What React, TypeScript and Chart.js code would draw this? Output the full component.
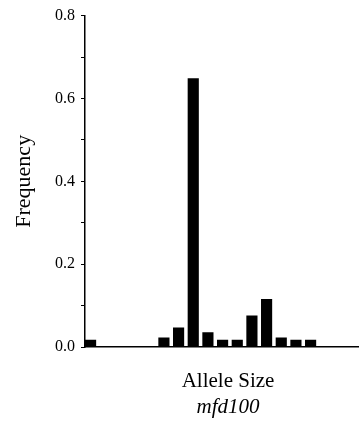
import React, { useEffect, useRef } from "react";
import { Chart, registerables } from "chart.js";

Chart.register(...registerables);

// Allele size slots (index along the x axis) and their frequencies
const alleleSlots = [0, 5, 6, 7, 8, 9, 10, 11, 12, 13, 14, 15];
const frequencies = [0.017, 0.022, 0.046, 0.648, 0.035, 0.017, 0.017, 0.075, 0.115, 0.022, 0.017, 0.017];
const yTickValues = [0, 0.2, 0.4, 0.6, 0.8];

const xTitle = "Allele Size";
const locusName = "mfd100";
const yTitle = "Frequency";

const SERIF = "'Liberation Serif', 'Times New Roman', serif";

const bottomLabels = {
  id: "bottomLabels",
  afterDraw(chart: any) {
    const { ctx, chartArea } = chart;
    const cx = (chartArea.left + chartArea.right) / 2 + 6;
    ctx.save();
    ctx.fillStyle = "#000";
    ctx.textAlign = "center";
    ctx.textBaseline = "alphabetic";
    ctx.font = `21px ${SERIF}`;
    ctx.fillText(xTitle, cx, chartArea.bottom + 40);
    ctx.font = `italic 21px ${SERIF}`;
    ctx.fillText(locusName, cx, chartArea.bottom + 66);
    ctx.restore();
  },
};

export default function App() {
  const ref = useRef<HTMLCanvasElement | null>(null);

  useEffect(() => {
    document.body.style.margin = "0";
    const canvas = ref.current;
    if (!canvas) return;
    const chart = new Chart(canvas, {
      type: "bar",
      data: {
        datasets: [
          {
            data: alleleSlots.map((s, i) => ({ x: s, y: frequencies[i] })),
            backgroundColor: "#000",
            borderWidth: 0,
            barThickness: 10.5,
          },
        ],
      },
      options: {
        responsive: false,
        animation: false,
        layout: { padding: { left: 0, right: 0, top: 11, bottom: 75 } },
        plugins: {
          legend: { display: false },
          tooltip: { enabled: false },
          title: { display: false },
        },
        scales: {
          x: {
            type: "linear",
            offset: false,
            min: -0.38,
            max: 18.3,
            ticks: { display: false },
            grid: { display: false, drawTicks: false },
            border: { display: true, color: "#000", width: 1.5 },
            afterFit(scale: any) {
              scale.height = 0;
            },
          },
          y: {
            min: 0,
            max: 0.8,
            ticks: {
              stepSize: 0.1,
              color: "#000",
              padding: 6,
              font: { family: SERIF, size: 16 },
              callback: (v: any) => {
                const n = Number(v);
                const hit = yTickValues.find((t) => Math.abs(t - n) < 1e-6);
                return hit !== undefined ? hit.toFixed(1) : "";
              },
            },
            grid: {
              display: true,
              drawOnChartArea: false,
              drawTicks: true,
              tickLength: 4,
              color: "#000",
              lineWidth: 1,
            },
            border: { display: true, color: "#000", width: 1.5 },
            title: {
              display: true,
              text: yTitle,
              color: "#000",
              font: { family: SERIF, size: 22 },
              padding: { top: 11, bottom: 0 },
            },
            afterFit(scale: any) {
              scale.width = 85;
            },
          },
        },
      },
      plugins: [bottomLabels],
    });
    return () => chart.destroy();
  }, []);

  return (
    <div style={{ width: 359, height: 422 }}>
      <canvas ref={ref} width={359} height={422} style={{ display: "block" }} />
    </div>
  );
}
